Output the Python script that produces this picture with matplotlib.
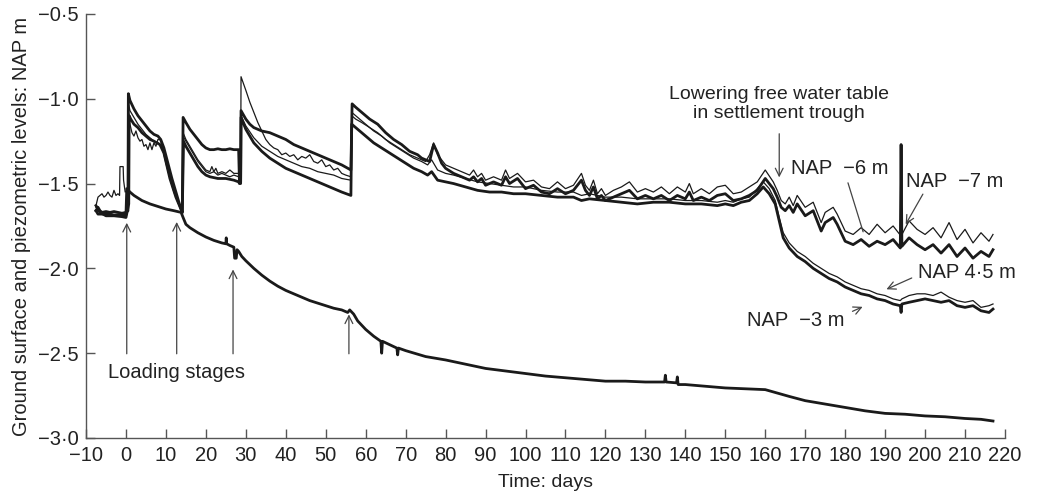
import matplotlib
matplotlib.use("Agg")
import matplotlib.pyplot as plt
from matplotlib.ticker import FixedLocator, FuncFormatter

plt.rcParams['font.family'] = ['Liberation Sans', 'DejaVu Sans']

# ground surface (settlement)
ground_day = [-7.5, -7, -5, -3, -1, 0, 0.2, 1, 2, 3, 4, 6, 8, 10, 12, 13.8, 14.3, 15, 16, 18,
              20, 22, 24, 25, 25.1, 25.2, 26, 27, 27.2, 27.6, 27.8, 28.2, 29, 30, 32, 34, 36, 38,
              40, 42, 44, 46, 48, 50, 52, 54, 55.5, 56, 57, 58, 60, 62, 63.8, 64, 64.2, 66, 67.8,
              68, 68.2, 70, 75, 80, 85, 90, 95, 100, 105, 110, 115, 120, 125, 130, 134.8, 135,
              135.2, 137.8, 138, 138.2, 140, 145, 150, 155, 160, 163, 166, 170, 175, 180, 185,
              190, 195, 200, 205, 210, 214, 217]
ground_lvl = [-1.66, -1.68, -1.68, -1.685, -1.685, -1.685, -1.53, -1.55, -1.57, -1.585, -1.60,
              -1.62, -1.635, -1.65, -1.66, -1.67, -1.70, -1.74, -1.76, -1.79, -1.815, -1.835,
              -1.85, -1.855, -1.82, -1.855, -1.865, -1.875, -1.94, -1.94, -1.89, -1.90, -1.93,
              -1.955, -2.0, -2.04, -2.075, -2.105, -2.13, -2.15, -2.17, -2.19, -2.205, -2.22,
              -2.235, -2.245, -2.26, -2.245, -2.27, -2.31, -2.36, -2.40, -2.43, -2.50, -2.43,
              -2.45, -2.47, -2.51, -2.47, -2.485, -2.52, -2.54, -2.565, -2.59, -2.605, -2.62,
              -2.635, -2.645, -2.655, -2.665, -2.665, -2.67, -2.67, -2.63, -2.67, -2.675, -2.64,
              -2.685, -2.685, -2.695, -2.705, -2.71, -2.715, -2.735, -2.755, -2.78, -2.80, -2.82,
              -2.84, -2.855, -2.86, -2.87, -2.875, -2.885, -2.89, -2.90]

# piezometers
p6_day = [-7.5, -7, -6.5, -6, -5, -4, -3, -2, -1, 0, 0.5, 0.6, 1, 2, 3, 4, 5, 6, 7, 8, 8.7, 9.5,
          10.5, 11.5, 12.5, 13.5, 14.1, 14.3, 15, 16, 17, 18, 19, 20, 21, 22, 23, 24, 25, 26, 27,
          28.2, 28.4, 28.7, 28.8, 30, 31, 32, 33, 34, 36, 38, 40, 42, 44, 46, 48, 50, 52, 54,
          56.3, 56.6, 57.5, 59, 61, 63, 65, 67, 69, 71, 73, 74, 75, 76, 77, 78, 79, 80, 82, 84,
          86, 87, 88, 89, 90, 92, 94, 95, 96, 98, 100, 102, 104, 106, 108, 110, 112, 114, 115,
          116, 117, 118, 119, 120, 122, 124, 126, 128, 130, 132, 134, 136, 138, 140, 141, 142,
          144, 146, 148, 150, 152, 154, 156, 158, 160, 162, 163, 164, 165, 166, 167, 168, 170,
          172, 174, 175, 177, 178, 180, 182, 184, 186, 188, 190, 192, 193.8, 194, 194.2, 196,
          198, 200, 202, 204, 206, 208, 210, 212, 214, 216, 217]
p6_lvl = [-1.66, -1.64, -1.66, -1.67, -1.665, -1.67, -1.665, -1.67, -1.675, -1.67, -1.66, -0.97,
          -1.01, -1.06, -1.10, -1.13, -1.16, -1.19, -1.21, -1.22, -1.24, -1.29, -1.38, -1.47,
          -1.55, -1.63, -1.67, -1.11, -1.14, -1.18, -1.21, -1.24, -1.27, -1.29, -1.30, -1.30,
          -1.295, -1.30, -1.30, -1.295, -1.30, -1.30, -1.49, -1.49, -1.07, -1.12, -1.15, -1.17,
          -1.18, -1.19, -1.20, -1.22, -1.24, -1.27, -1.29, -1.31, -1.33, -1.35, -1.37, -1.39,
          -1.42, -1.03, -1.05, -1.08, -1.12, -1.15, -1.20, -1.24, -1.27, -1.31, -1.33, -1.35,
          -1.36, -1.37, -1.27, -1.32, -1.38, -1.41, -1.44, -1.46, -1.48, -1.46, -1.49, -1.47,
          -1.51, -1.49, -1.51, -1.46, -1.50, -1.47, -1.53, -1.51, -1.55, -1.56, -1.53, -1.56,
          -1.54, -1.48, -1.54, -1.57, -1.52, -1.59, -1.57, -1.60, -1.58, -1.56, -1.54, -1.59,
          -1.57, -1.59, -1.57, -1.60, -1.57, -1.59, -1.55, -1.60, -1.58, -1.60, -1.57, -1.56,
          -1.60, -1.59, -1.57, -1.54, -1.47, -1.53, -1.58, -1.64, -1.66, -1.63, -1.67, -1.62,
          -1.69, -1.66, -1.78, -1.73, -1.70, -1.74, -1.84, -1.86, -1.83, -1.87, -1.84, -1.86,
          -1.83, -1.88, -1.27, -1.87, -1.82, -1.86, -1.89, -1.86, -1.91, -1.86, -1.93, -1.88,
          -1.94, -1.90, -1.93, -1.89]

p7_day = [-7.5, -7, -6.5, -6, -5.5, -5, -4.5, -4, -3.5, -3, -2.5, -2, -1.6, -1.5, -0.7, -0.6,
          -0.2, 0.4, 0.5, 1, 1.5, 2, 2.5, 3, 3.5, 4, 4.5, 5, 5.5, 6, 6.5, 7, 7.5, 8, 8.5, 9, 10,
          11, 12, 13, 14.1, 14.3, 15, 16, 17, 18, 19, 20, 21, 21.5, 22, 22.5, 23, 24, 25, 26, 27,
          28.2, 28.4, 28.7, 28.8, 30, 31, 32, 33, 34, 35, 36, 37, 38, 39, 40, 41, 42, 43, 44, 45,
          46, 47, 48, 49, 50, 51, 52, 53, 54, 55, 56.3, 56.5, 57.5, 59, 61, 63, 65, 67, 69, 71,
          73, 75, 76, 77, 78, 80, 82, 84, 86, 87, 88, 89, 90, 92, 94, 95, 96, 98, 100, 102, 104,
          106, 108, 110, 112, 114, 115, 116, 117, 118, 119, 120, 122, 124, 126, 128, 130, 132,
          134, 136, 138, 140, 141, 142, 144, 146, 148, 150, 152, 154, 156, 158, 160, 162, 163,
          164, 165, 166, 167, 168, 170, 172, 174, 175, 177, 178, 180, 182, 184, 186, 188, 190,
          192, 194, 196, 198, 200, 202, 204, 206, 208, 210, 212, 214, 216, 217]
p7_lvl = [-1.63, -1.58, -1.57, -1.56, -1.58, -1.57, -1.55, -1.57, -1.58, -1.54, -1.57, -1.56,
          -1.57, -1.40, -1.40, -1.48, -1.55, -1.54, -1.05, -1.15, -1.20, -1.22, -1.19, -1.23,
          -1.25, -1.24, -1.28, -1.27, -1.30, -1.26, -1.30, -1.26, -1.28, -1.24, -1.24, -1.27,
          -1.36, -1.45, -1.54, -1.61, -1.67, -1.20, -1.24, -1.28, -1.32, -1.36, -1.39, -1.42,
          -1.43, -1.40, -1.43, -1.41, -1.44, -1.43, -1.44, -1.42, -1.44, -1.44, -1.49, -1.49,
          -0.87, -0.95, -1.02, -1.08, -1.14, -1.19, -1.24, -1.27, -1.29, -1.30, -1.33, -1.32,
          -1.34, -1.33, -1.36, -1.34, -1.35, -1.33, -1.37, -1.38, -1.36, -1.40, -1.39, -1.42,
          -1.41, -1.44, -1.45, -1.46, -1.10, -1.12, -1.14, -1.17, -1.20, -1.24, -1.27, -1.30,
          -1.33, -1.35, -1.37, -1.33, -1.26, -1.33, -1.39, -1.41, -1.43, -1.45, -1.42, -1.46,
          -1.44, -1.48, -1.46, -1.48, -1.42, -1.47, -1.44, -1.49, -1.48, -1.52, -1.53, -1.49,
          -1.53, -1.51, -1.44, -1.51, -1.54, -1.48, -1.56, -1.53, -1.57, -1.54, -1.52, -1.49,
          -1.55, -1.53, -1.55, -1.52, -1.56, -1.52, -1.55, -1.50, -1.56, -1.53, -1.56, -1.52,
          -1.51, -1.56, -1.55, -1.52, -1.49, -1.42, -1.49, -1.54, -1.60, -1.62, -1.58, -1.63,
          -1.57, -1.64, -1.61, -1.73, -1.67, -1.64, -1.68, -1.78, -1.80, -1.76, -1.80, -1.74,
          -1.79, -1.75, -1.81, -1.72, -1.77, -1.80, -1.76, -1.82, -1.73, -1.83, -1.77, -1.85,
          -1.79, -1.84, -1.80]

p45_day = [-7.5, -7, -6, -5, -4, -3, -2, -1, 0, 0.55, 0.65, 1, 2, 3, 4, 5, 6, 7, 8, 9, 10, 11,
           12, 13, 14.1, 14.3, 15, 16, 17, 18, 19, 20, 21, 22, 23, 24, 25, 26, 27, 28.2, 28.4,
           28.7, 28.8, 30, 32, 34, 36, 38, 40, 42, 44, 46, 48, 50, 52, 54, 56.3, 56.5, 58, 60,
           62, 64, 66, 68, 70, 72, 74, 75.5, 76.5, 78, 80, 82, 85, 88, 91, 94, 97, 100, 104,
           108, 112, 114, 116, 120, 124, 128, 132, 136, 140, 144, 148, 150, 152, 154, 156, 158,
           159.5, 161, 162.5, 163.5, 164.5, 166, 168, 170, 172, 174, 176, 178, 180, 182, 184,
           186, 188, 190, 192, 193.8, 194.2, 196, 198, 200, 202, 204, 206, 208, 210, 212, 214,
           216, 217]
p45_lvl = [-1.64, -1.66, -1.67, -1.68, -1.675, -1.685, -1.68, -1.685, -1.68, -1.62, -1.03,
           -1.07, -1.11, -1.15, -1.18, -1.21, -1.23, -1.25, -1.26, -1.28, -1.38, -1.47, -1.55,
           -1.61, -1.66, -1.22, -1.25, -1.29, -1.33, -1.37, -1.40, -1.43, -1.44, -1.43, -1.45,
           -1.44, -1.45, -1.46, -1.45, -1.46, -1.49, -1.49, -1.10, -1.16, -1.23, -1.28, -1.31,
           -1.34, -1.36, -1.38, -1.40, -1.41, -1.43, -1.44, -1.45, -1.47, -1.48, -1.08, -1.11,
           -1.15, -1.19, -1.22, -1.26, -1.29, -1.32, -1.35, -1.37, -1.39, -1.36, -1.42, -1.44,
           -1.45, -1.47, -1.49, -1.50, -1.51, -1.52, -1.52, -1.54, -1.55, -1.55, -1.57, -1.56,
           -1.58, -1.58, -1.59, -1.59, -1.59, -1.60, -1.60, -1.61, -1.60, -1.61, -1.59, -1.58,
           -1.53, -1.49, -1.53, -1.60, -1.70, -1.79, -1.85, -1.90, -1.93, -1.97, -2.00, -2.03,
           -2.05, -2.08, -2.10, -2.12, -2.13, -2.15, -2.16, -2.18, -2.19, -2.18, -2.16, -2.15,
           -2.15, -2.16, -2.14, -2.17, -2.19, -2.20, -2.19, -2.23, -2.22, -2.21]

p3_day = [-7.5, -6.5, -5, -3, -1, 0, 0.7, 0.8, 1.2, 2, 3, 4, 5, 6, 7, 8.5, 9.5, 11, 12.5, 14.1,
          14.4, 15, 16, 17, 18, 19, 20, 21, 23, 25, 27, 28.2, 28.4, 28.7, 28.8, 30, 32, 34, 36,
          38, 40, 42, 44, 46, 48, 50, 52, 54, 56.3, 56.5, 58, 60, 62, 64, 66, 68, 70, 72, 74,
          75.5, 76.5, 78, 80, 82, 85, 88, 91, 94, 97, 100, 104, 108, 112, 114, 116, 120, 124,
          128, 132, 136, 140, 144, 148, 150, 152, 154, 156, 158, 159.5, 161, 162.5, 163.5,
          164.5, 166, 168, 170, 172, 174, 176, 178, 180, 182, 184, 186, 188, 190, 192, 193.8,
          194, 194.2, 196, 198, 200, 202, 204, 206, 208, 210, 212, 214, 216, 217]
p3_lvl = [-1.63, -1.67, -1.69, -1.69, -1.695, -1.70, -1.62, -1.10, -1.12, -1.15, -1.17, -1.20,
          -1.22, -1.24, -1.25, -1.27, -1.32, -1.47, -1.58, -1.67, -1.25, -1.28, -1.32, -1.36,
          -1.40, -1.43, -1.45, -1.46, -1.47, -1.47, -1.48, -1.49, -1.50, -1.50, -1.11, -1.18,
          -1.26, -1.31, -1.35, -1.38, -1.41, -1.43, -1.45, -1.47, -1.49, -1.51, -1.53, -1.55,
          -1.57, -1.15, -1.18, -1.22, -1.26, -1.29, -1.32, -1.35, -1.38, -1.41, -1.43, -1.45,
          -1.43, -1.48, -1.49, -1.50, -1.52, -1.54, -1.55, -1.55, -1.56, -1.56, -1.57, -1.58,
          -1.58, -1.60, -1.59, -1.60, -1.61, -1.62, -1.61, -1.61, -1.62, -1.62, -1.63, -1.62,
          -1.63, -1.61, -1.60, -1.56, -1.52, -1.56, -1.62, -1.72, -1.82, -1.88, -1.93, -1.96,
          -2.00, -2.03, -2.06, -2.08, -2.11, -2.13, -2.15, -2.16, -2.18, -2.19, -2.21, -2.22,
          -2.26, -2.21, -2.20, -2.19, -2.18, -2.19, -2.20, -2.19, -2.22, -2.23, -2.22, -2.25,
          -2.26, -2.24]

x_ticks = list(range(-10, 221, 10))
y_ticks = [-3.0, -2.5, -2.0, -1.5, -1.0, -0.5]

ink = '#1a1a1a'
axis_col = '#555555'
txt = '#222222'
fs = 14.5

fig = plt.figure(figsize=(10.45, 4.95), dpi=100)
ax = fig.add_axes([0.0823, 0.1152, 0.8794, 0.8566])

ax.plot(ground_day, ground_lvl, color=ink, lw=2.0)
ax.plot(p3_day, p3_lvl, color=ink, lw=2.0)
ax.plot(p45_day, p45_lvl, color=ink, lw=0.9)
ax.plot(p6_day, p6_lvl, color=ink, lw=2.0)
ax.plot(p7_day, p7_lvl, color=ink, lw=0.9)

ax.set_xlim(-10, 220)
ax.set_ylim(-3.0, -0.5)
for s in ['top', 'right']:
    ax.spines[s].set_visible(False)
for s in ['left', 'bottom']:
    ax.spines[s].set_color(axis_col)
    ax.spines[s].set_linewidth(1.0)

ax.xaxis.set_major_locator(FixedLocator(x_ticks))
ax.yaxis.set_major_locator(FixedLocator(y_ticks))
ax.xaxis.set_major_formatter(FuncFormatter(lambda v, p: f"{v:.0f}".replace('-', '\u2212')))
ax.yaxis.set_major_formatter(FuncFormatter(
    lambda v, p: f"{v:.1f}".replace('-', '\u2212').replace('.', '\u00b7')))
ax.tick_params(direction='in', length=6.5, width=1.0, color=axis_col,
               labelsize=fs, labelcolor=txt)
ax.tick_params(axis='x', pad=6)
ax.tick_params(axis='y', pad=5)

ax.set_xlabel('Time: days', fontsize=fs - 0.5, color=txt, labelpad=6)
ax.set_ylabel('Ground surface and piezometric levels: NAP m', fontsize=fs,
              color=txt, labelpad=5)

# loading stage arrows
arrow_kw = dict(arrowstyle='->', color='#444444', lw=0.9, mutation_scale=14)
stage_day = [0.2, 12.7, 26.8, 55.8]
stage_tip = [-1.715, -1.71, -1.99, -2.255]
for d, t in zip(stage_day, stage_tip):
    ax.annotate('', xy=(d, t), xytext=(d, -2.52), arrowprops=arrow_kw)
ax.text(-4.5, -2.615, 'Loading stages', fontsize=fs, color=txt, ha='left', va='center')

ax.text(163.5, -1.03, 'Lowering free water table\nin settlement trough', fontsize=fs - 0.5,
        color=txt, ha='center', va='center', linespacing=1.1)
ax.annotate('', xy=(163.5, -1.48), xytext=(163.5, -1.19), arrowprops=arrow_kw)

ax.text(178.7, -1.41, 'NAP  \u22126 m', fontsize=fs, color=txt, ha='center', va='center')
ax.annotate('', xy=(184.7, -1.80), xytext=(180.5, -1.48),
            arrowprops=dict(arrowstyle='-', color='#444444', lw=0.9))

ax.text(207.5, -1.49, 'NAP  \u22127 m', fontsize=fs, color=txt, ha='center', va='center')
ax.annotate('', xy=(194.8, -1.755), xytext=(199.8, -1.548), arrowprops=arrow_kw)

ax.text(210.6, -2.025, 'NAP 4\u00b75 m', fontsize=fs, color=txt, ha='center', va='center')
ax.annotate('', xy=(189.7, -2.13), xytext=(197.3, -2.05), arrowprops=arrow_kw)

ax.text(167.6, -2.31, 'NAP  \u22123 m', fontsize=fs, color=txt, ha='center', va='center')
ax.annotate('', xy=(185.0, -2.22), xytext=(181.2, -2.26), arrowprops=arrow_kw)

fig.savefig('out.png', dpi=100)
